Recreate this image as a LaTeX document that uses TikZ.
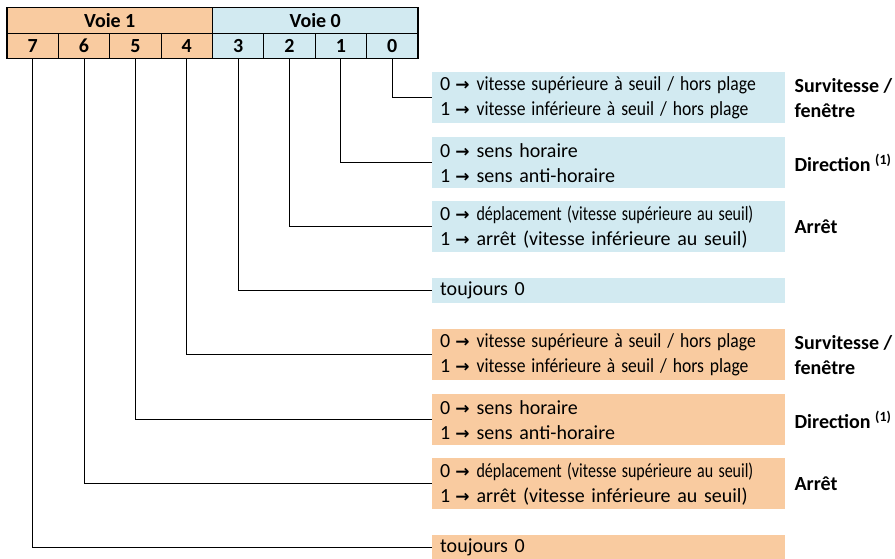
\documentclass[tikz,border=0pt]{standalone}
\usepackage{fontspec}
\setmainfont{Carlito}
\newfontfamily\arrowfont{DejaVu Sans}
\usetikzlibrary{positioning}
\definecolor{voieun}{HTML}{F9CBA0}
\definecolor{voiezero}{HTML}{D2EAF1}
\newcommand{\fl}{\hspace{5pt}{\arrowfont\bfseries\fontsize{17}{25}\selectfont →}\hspace{7pt}}
\newcommand{\serre}[2]{\scalebox{#1}[1]{#2}}

\begin{document}
\begin{tikzpicture}[x=1pt,y=-1pt,
  every node/.style={font=\fontsize{20}{25}\selectfont},
  cell/.style={draw,line width=1.2pt,minimum height=25.5pt,inner sep=0pt,
    font=\fontsize{20}{22}\selectfont\bfseries},
  bit/.style={cell,minimum width=51.375pt},
  desc/.style={anchor=north west,minimum width=353pt,minimum height=51pt,
    text width=337pt,align=left,inner sep=0pt},
  lab/.style={align=left,inner sep=0pt,font=\fontsize{20}{25}\selectfont\bfseries},
  conn/.style={line width=1pt}]
  \useasboundingbox (0,0) rectangle (895,558);
  % registre
  \node[cell,minimum width=205.5pt,fill=voieun] (v1) at (109.75,20.5) {Voie 1};
  \node[cell,minimum width=205.5pt,fill=voiezero] (v0) at (315.25,20.5) {Voie 0};
  \foreach \i in {0,...,3}
    \node[bit,fill=voiezero] (b\i) at ({418-51.375*(\i+0.5)},46) {\i};
  \foreach \i in {4,...,7}
    \node[bit,fill=voieun] (b\i) at ({418-51.375*(\i+0.5)},46) {\i};
  % descriptions voie 0
  \node[desc,fill=voiezero] (d0) at (432,72)
    {0\fl\serre{0.88}{vitesse supérieure à seuil / hors plage}\\1\fl\serre{0.88}{vitesse inférieure à seuil / hors plage}};
  \node[desc,fill=voiezero] (d1) at (432,137)
    {0\fl sens horaire\\1\fl sens anti-horaire};
  \node[desc,fill=voiezero] (d2) at (432,201)
    {0\fl\serre{0.8}{déplacement (vitesse supérieure au seuil)}\\1\fl arrêt (vitesse inférieure au seuil)};
  \node[desc,fill=voiezero,minimum height=25pt] (d3) at (432,278) {toujours 0};
  % descriptions voie 1
  \node[desc,fill=voieun] (d4) at (432,329)
    {0\fl\serre{0.88}{vitesse supérieure à seuil / hors plage}\\1\fl\serre{0.88}{vitesse inférieure à seuil / hors plage}};
  \node[desc,fill=voieun] (d5) at (432,394)
    {0\fl sens horaire\\1\fl sens anti-horaire};
  \node[desc,fill=voieun] (d6) at (432,458)
    {0\fl\serre{0.8}{déplacement (vitesse supérieure au seuil)}\\1\fl arrêt (vitesse inférieure au seuil)};
  \node[desc,fill=voieun,minimum height=25pt] (d7) at (432,535) {toujours 0};
  % liaisons
  \foreach \i in {0,...,7}
    \draw[conn] (b\i.south) |- (d\i.west);
  % titres
  \node[lab,right=9pt of d0] (t0) {Survitesse /\\fenêtre};
  \node[lab,right=9pt of d1] (t1) {Direction \textsuperscript{(1)}};
  \node[lab,right=9pt of d2] (t2) {Arrêt};
  \node[lab,right=9pt of d4] (t4) {Survitesse /\\fenêtre};
  \node[lab,right=9pt of d5] (t5) {Direction \textsuperscript{(1)}};
  \node[lab,right=9pt of d6] (t6) {Arrêt};
\end{tikzpicture}
\end{document}
